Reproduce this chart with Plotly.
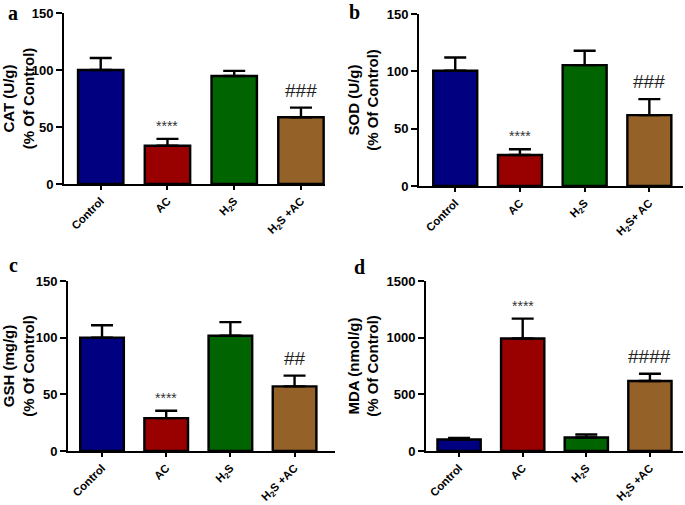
import plotly.graph_objects as go

W, H = 685, 505

categories = ["Control", "AC", "H<sub>2</sub>S", "H<sub>2</sub>S +AC"]
categories_b = ["Control", "AC", "H<sub>2</sub>S", "H<sub>2</sub>S+ AC"]
colors = ["#000080", "#990000", "#006400", "#946229"]

cat_mean = [100, 33.6, 94.7, 58.5]
cat_err = [10.5, 6, 4.5, 8.5]
sod_mean = [100.5, 27, 105.4, 61.8]
sod_err = [11.5, 5, 12.5, 14]
gsh_mean = [100, 29, 101.7, 57]
gsh_err = [11, 6.5, 12, 9.5]
mda_mean = [101, 993, 119, 617]
mda_err = [15, 175, 26, 65]

star_labels = ["", "****", "", ""]
hash_a = ["", "", "", "###"]
hash_b = ["", "", "", "###"]
hash_c = ["", "", "", "##"]
hash_d = ["", "", "", "####"]

ytitles = ["CAT (U/g)<br>(% Of Control)", "SOD (U/g)<br>(% Of Control)",
           "GSH (mg/g)<br>(% Of Control)", "MDA (nmol/g)<br>(% Of Control)"]
letters = ["a", "b", "c", "d"]

panels = [
    dict(px=(64, 325), py=(13, 184), xr=[-0.55, 3.36], yr=150, dt=50,
         mean=cat_mean, err=cat_err, hashes=hash_a, cats=categories, letter=(13, 13)),
    dict(px=(419, 683), py=(14, 186), xr=[-0.56, 3.52], yr=150, dt=50,
         mean=sod_mean, err=sod_err, hashes=hash_b, cats=categories_b, letter=(354, 12)),
    dict(px=(68, 335), py=(281, 451), xr=[-0.53, 3.63], yr=150, dt=50,
         mean=gsh_mean, err=gsh_err, hashes=hash_c, cats=categories, letter=(13, 265)),
    dict(px=(426, 683), py=(281, 451), xr=[-0.52, 3.52], yr=1500, dt=500,
         mean=mda_mean, err=mda_err, hashes=hash_d, cats=categories, letter=(359, 267)),
]

FONT = "Arial, Liberation Sans, sans-serif"
fig = go.Figure()
annotations = []

for i, p in enumerate(panels):
    k = "" if i == 0 else str(i + 1)
    xs = [0, 1, 2, 3]
    fig.add_trace(go.Bar(
        x=xs, y=p["mean"], width=0.68,
        marker=dict(color=colors, line=dict(color="black", width=2.4)),
        error_y=dict(type="data", symmetric=False, array=p["err"],
                     arrayminus=[0, 0, 0, 0], color="black", thickness=2.4, width=11),
        xaxis="x" + k, yaxis="y" + k, showlegend=False, hoverinfo="skip",
    ))
    x0, x1 = p["px"]
    yt, yb = p["py"]
    fig.layout["xaxis" + k] = dict(
        domain=[x0 / W, x1 / W], range=p["xr"], anchor="y" + k, automargin=False,
        tickvals=xs, ticktext=p["cats"], tickangle=-45,
        showline=True, linecolor="black", linewidth=2,
        ticks="outside", ticklen=4, tickwidth=2, tickcolor="black",
        showgrid=False, zeroline=False,
        tickfont=dict(family=FONT, size=11.3, color="black", weight="bold"),
    )
    fig.layout["yaxis" + k] = dict(
        domain=[1 - yb / H, 1 - yt / H], range=[0, p["yr"]], anchor="x" + k, automargin=False,
        tickvals=[0, p["dt"], 2 * p["dt"], 3 * p["dt"]],
        showline=True, linecolor="black", linewidth=2,
        ticks="outside", ticklen=6, tickwidth=2, tickcolor="black",
        showgrid=False, zeroline=False,
        tickfont=dict(family=FONT, size=13, color="black", weight="bold"),
        title=dict(text=ytitles[i], standoff=4,
                   font=dict(family=FONT, size=15, color="black", weight="bold")),
    )
    for j in range(4):
        top = p["mean"][j] + p["err"][j]
        if star_labels[j]:
            annotations.append(dict(
                x=j, y=top, xref="x" + k, yref="y" + k, text=star_labels[j],
                showarrow=False, yanchor="bottom", yshift=3,
                font=dict(family=FONT, size=14, color="#333333")))
        if p["hashes"][j]:
            annotations.append(dict(
                x=j, y=top, xref="x" + k, yref="y" + k, text=p["hashes"][j],
                showarrow=False, yanchor="bottom", yshift=5,
                font=dict(family=FONT, size=19, color="#222222")))
    lx, ly = p["letter"]
    annotations.append(dict(
        x=lx / W, y=1 - ly / H, xref="paper", yref="paper", text="<b>" + letters[i] + "</b>",
        showarrow=False, xanchor="center", yanchor="middle",
        font=dict(family="Times New Roman, Liberation Serif, serif", size=20, color="black")))

fig.update_layout(
    template="none",
    width=W, height=H, margin=dict(l=0, r=0, t=0, b=0, autoexpand=False),
    paper_bgcolor="white", plot_bgcolor="white",
    annotations=annotations, bargap=0,
)

fig.write_html("out.html", config={"displayModeBar": False, "staticPlot": True},
               post_script="document.body.style.margin='0';document.body.style.overflow='hidden';")
